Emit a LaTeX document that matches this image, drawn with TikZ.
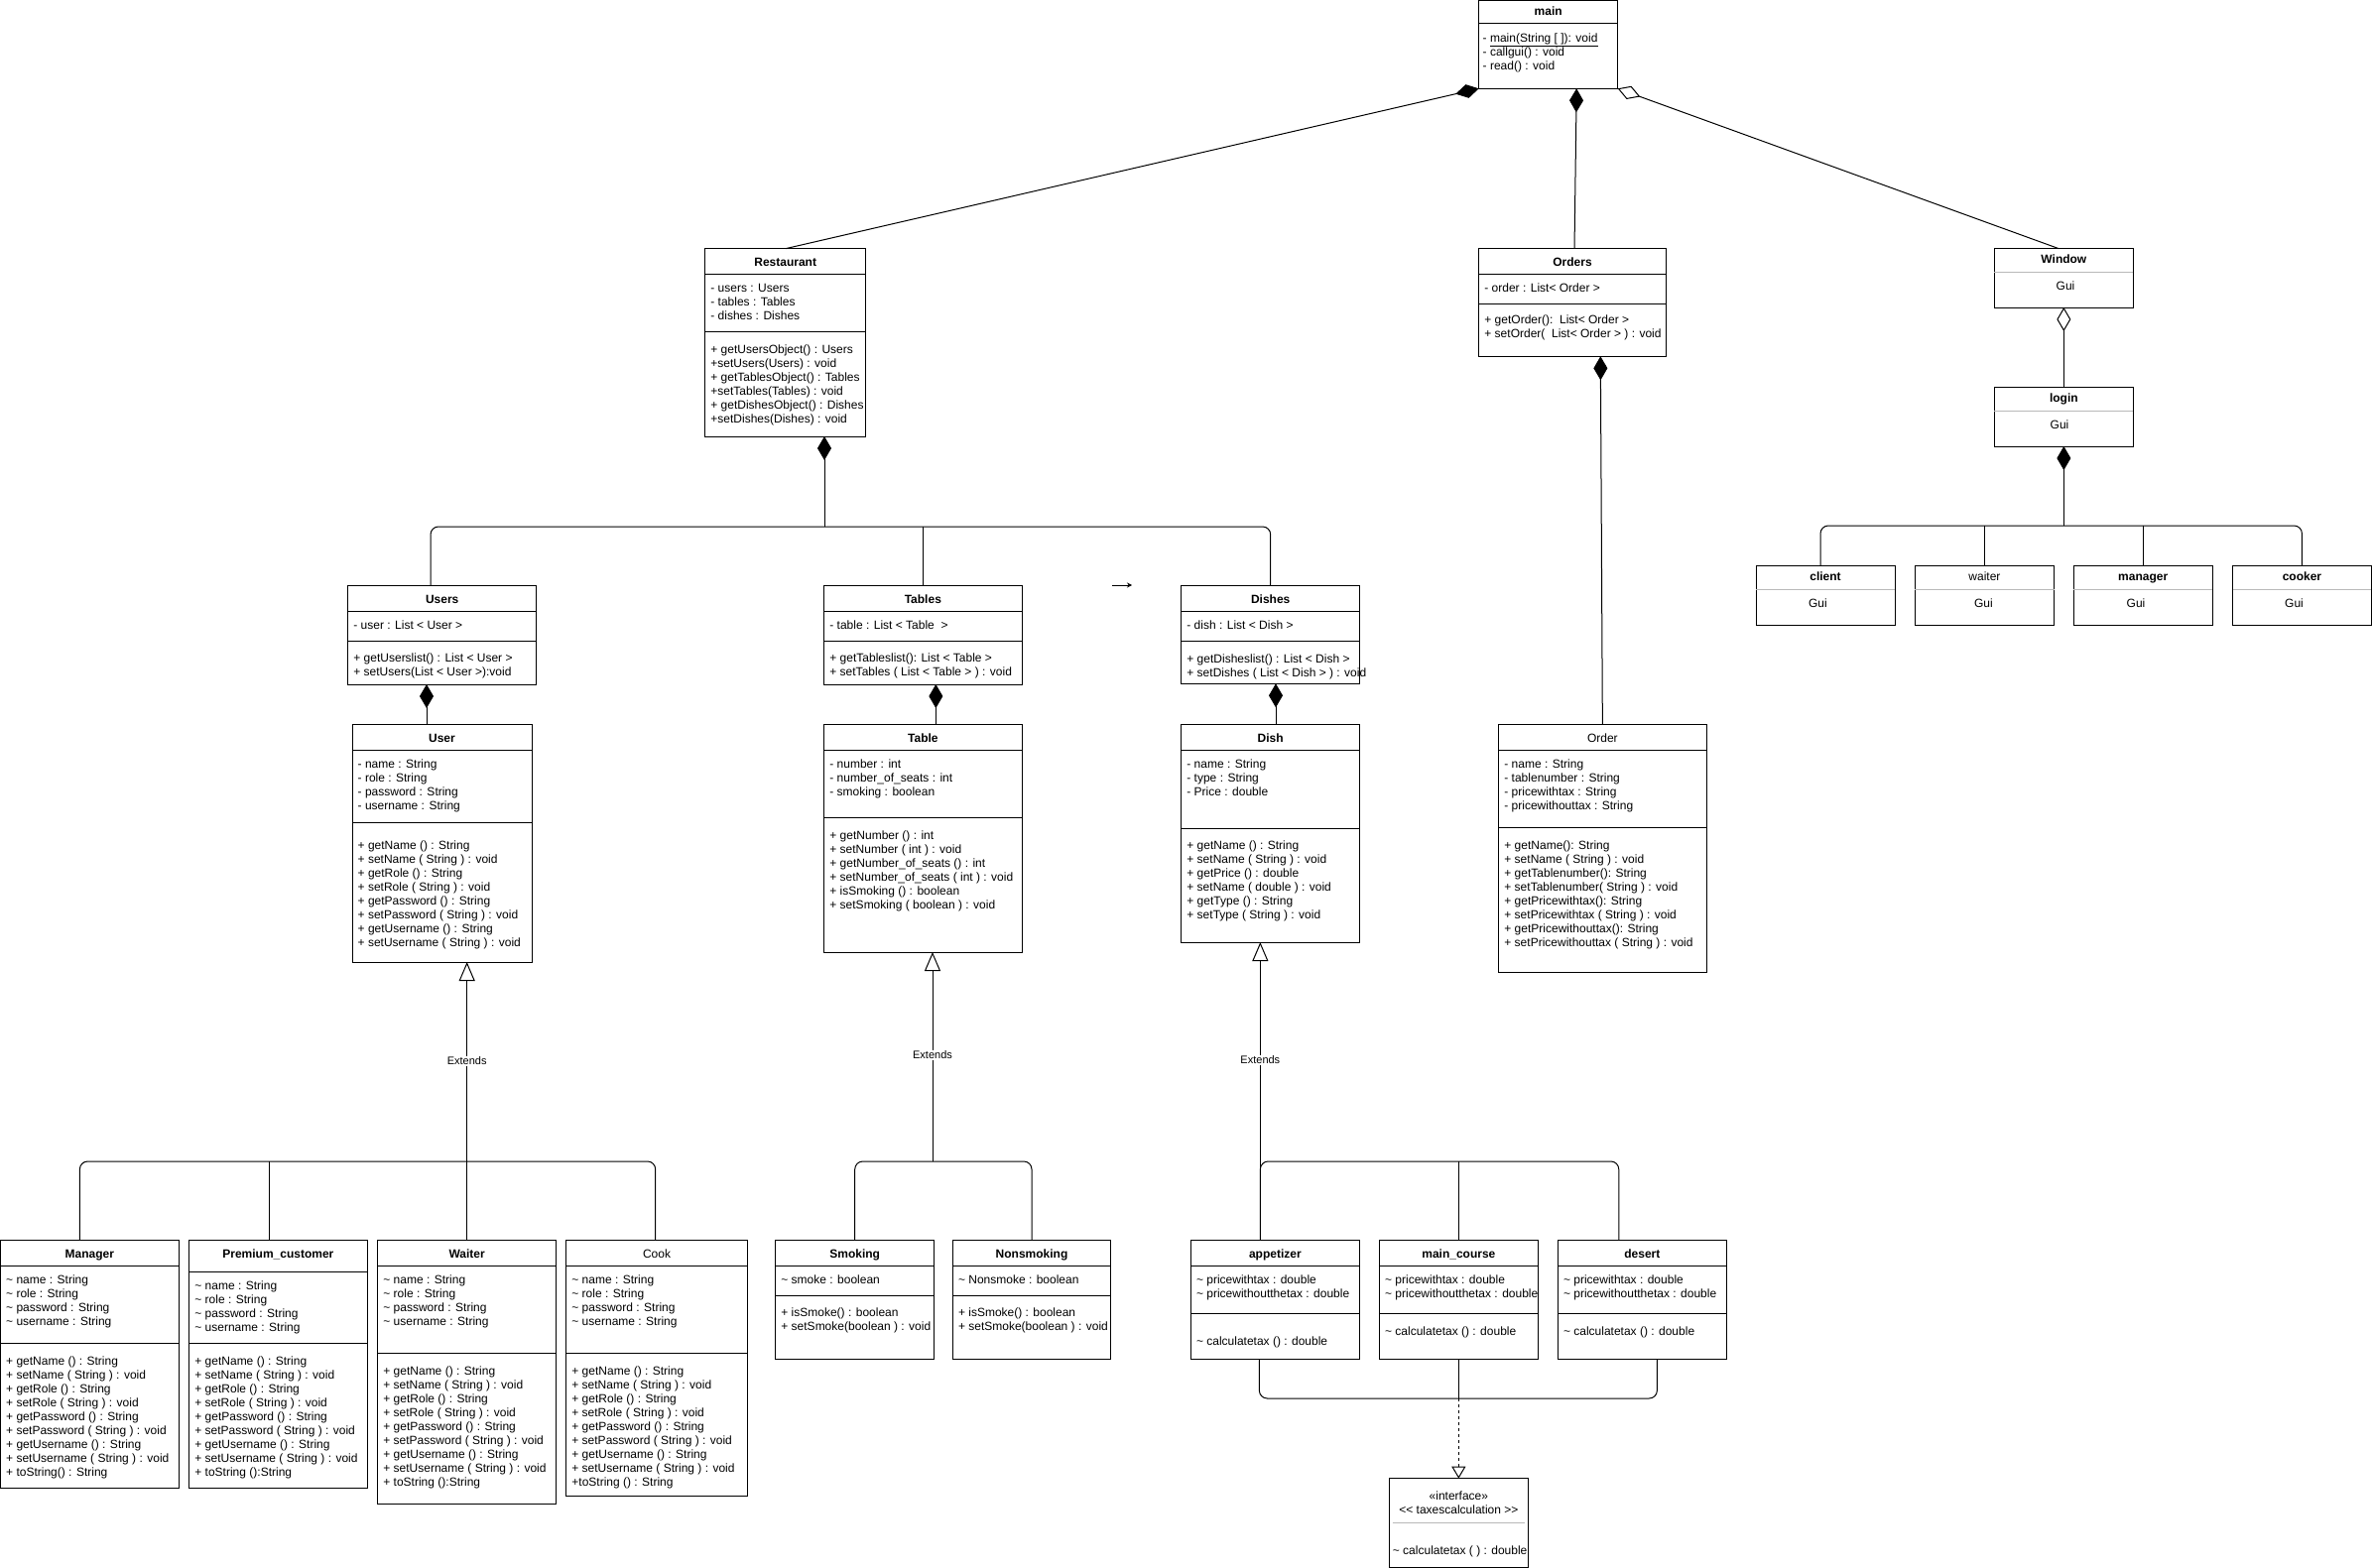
\documentclass[tikz,border=0pt]{standalone}
\usepackage{fontspec}
\setmainfont{Liberation Sans}
\usetikzlibrary{arrows.meta,calc}

\newcommand\tld{\textasciitilde}
\newcommand\basefont{\fontsize{12}{14}\selectfont}

\tikzset{
  cls/.style={draw, line width=1pt, inner sep=0pt, outer sep=0pt, anchor=north west, fill=white},
  ttl/.style={font=\basefont\bfseries, anchor=base, inner sep=0pt},
  ttlr/.style={font=\basefont, anchor=base, inner sep=0pt},
  ln/.style={anchor=base west, inner sep=0pt},
  mid/.style={anchor=base, inner sep=0pt},
  conn/.style={line width=1pt},
  comp/.style={conn, -{Diamond[length=24pt,width=14pt]}},
  aggr/.style={conn, -{Diamond[open,fill=white,length=24pt,width=14pt]}},
  gen/.style={conn, -{Triangle[open,fill=white,length=19pt,width=16pt]}},
  real/.style={conn, dash pattern=on 3pt off 3pt, -{Triangle[open,fill=white,length=12pt,width=14pt]}},
  sep/.style={line width=1pt},
  gsep/.style={line width=1pt, draw=gray!55},
  lbl/.style={font=\fontsize{11}{13}\selectfont, fill=white, inner sep=1pt},
}

% class rectangle: name, x1, y1, x2, y2
\newcommand\classrect[5]{\node[cls, minimum width={#4-#2}, minimum height={#5-#3}] (#1) at (#2,#3) {};}
% compartment separator: [style] name, y
\newcommand\classsep[3][sep]{\draw[#1] (#2.west |- 0,#3) -- (#2.east |- 0,#3);}
% title: [style] name, baseline, text
\newcommand\classtitle[4][ttl]{\node[#1] (#2-t) at (#2.north |- 0,#3) {#4};}
% member lines: prefix, x, first baseline, list
\newcommand\classlines[4]{\foreach \classitem [count=\classidx] in {#4}
  \node[ln] (#1-\classidx) at ({#2},{#3+14*(\classidx-1)}) {\classitem};}

\begin{document}
\begin{tikzpicture}[x=1pt,y=-1pt,font=\basefont]
\fill[white] (0,0) rectangle (2391,1581);
\useasboundingbox (0,0) rectangle (2391,1581);

% ---------- main ----------
\classrect{main}{1490.7}{0.5}{1630.7}{89.3}
\classsep{main}{24}
\classtitle{main}{15.5}{main}
\node[ln] (main-1) at (1494.5,42.5) {- \underline{main(String [ ]): void}};
\node[ln] (main-2) at (1494.5,57) {- callgui() : void};
\node[ln] (main-3) at (1494.5,70.5) {- read() : void};

% ---------- Restaurant ----------
\classrect{restaurant}{710.7}{250.7}{872.7}{440}
\classsep{restaurant}{276}
\classsep{restaurant}{334}
\classtitle{restaurant}{268.5}{Restaurant}
\classlines{restaurant-a}{716.2}{294.3}{{- users : Users},{- tables : Tables},{- dishes : Dishes}}
\begin{scope}
  \clip (restaurant.north west) rectangle (restaurant.south east);
  \classlines{restaurant-m}{716.2}{356}{{+ getUsersObject() : Users},{+setUsers(Users) : void},{+ getTablesObject() : Tables},{+setTables(Tables) : void},{+ getDishesObject() : Dishes},{+setDishes(Dishes) : void}}
\end{scope}

% ---------- Orders ----------
\classrect{orders}{1490.7}{250.7}{1679.3}{359.3}
\classsep{orders}{276}
\classsep{orders}{306}
\classtitle{orders}{268.5}{Orders}
\classlines{orders-a}{1496.2}{294.3}{{- order : List< Order >}}
\classlines{orders-m}{1496.2}{326}{{+ getOrder():\ \ List< Order >},{+ setOrder(\ \ List< Order > ) : void}}

% ---------- Window / login and GUI classes ----------
\classrect{window}{2010.3}{250.7}{2150.4}{310}
\classsep[gsep]{window}{274}
\classtitle{window}{265.2}{Window}
\node[mid] (window-g) at (2082,292) {Gui};

\classrect{login}{2010.3}{390.7}{2150.4}{450}
\classsep[gsep]{login}{414}
\classtitle{login}{405.5}{login}
\node[mid] (login-g) at (2076,432) {Gui};

\classrect{gclient}{1770}{570.7}{1910}{630}
\classsep[gsep]{gclient}{594.3}
\classtitle{gclient}{585.2}{client}
\node[mid] (gclient-g) at (1832.4,612) {Gui};

\classrect{gwaiter}{1930.2}{570.7}{2070.7}{630}
\classsep[gsep]{gwaiter}{594.3}
\classtitle[ttlr]{gwaiter}{585.2}{waiter}
\node[mid] (gwaiter-g) at (1999.4,612) {Gui};

\classrect{gmanager}{2090.4}{570.7}{2230}{630}
\classsep[gsep]{gmanager}{594.3}
\classtitle{gmanager}{585.2}{manager}
\node[mid] (gmanager-g) at (2153,612) {Gui};

\classrect{gcooker}{2250.6}{570.7}{2390.2}{630}
\classsep[gsep]{gcooker}{594.3}
\classtitle{gcooker}{585.2}{cooker}
\node[mid] (gcooker-g) at (2312.5,612) {Gui};

% ---------- Users / User ----------
\classrect{users}{350.7}{590.7}{540.7}{690}
\classsep{users}{616}
\classsep{users}{646}
\classtitle{users}{608.5}{Users}
\classlines{users-a}{356.2}{634.3}{{- user : List < User >}}
\classlines{users-m}{356.2}{667.6}{{+ getUserslist() : List < User >},{+ setUsers(List < User >):void}}

\classrect{user}{355}{730.7}{536}{970}
\classsep{user}{756.7}
\classsep{user}{829.3}
\classtitle{user}{748.5}{User}
\classlines{user-a}{360.5}{774.3}{{- name : String},{- role : String},{- password : String},{- username : String}}
\classlines{user-m}{360.5}{856}{{+ getName () : String},{+ setName ( String ) : void},{+ getRole () : String},{+ setRole ( String ) : void},{+ getPassword () : String},{+ setPassword ( String ) : void},{+ getUsername () : String},{+ setUsername ( String ) : void}}

% ---------- Tables / Table ----------
\classrect{tables}{830.7}{590.7}{1030}{690}
\classsep{tables}{616}
\classsep{tables}{646}
\classtitle{tables}{608.5}{Tables}
\classlines{tables-a}{836.2}{634.3}{{- table : List < Table\ \ >}}
\classlines{tables-m}{836.2}{667.6}{{+ getTableslist(): List < Table >},{+ setTables ( List < Table > ) : void}}

\classrect{table}{830.7}{730.7}{1030}{960}
\classsep{table}{756.7}
\classsep{table}{824}
\classtitle{table}{748.5}{Table}
\classlines{table-a}{836.2}{774.3}{{- number : int},{- number\_of\_seats : int},{- smoking : boolean}}
\classlines{table-m}{836.2}{846}{{+ getNumber () : int},{+ setNumber ( int ) : void},{+ getNumber\_of\_seats () : int},{+ setNumber\_of\_seats ( int ) : void},{+ isSmoking () : boolean},{+ setSmoking ( boolean ) : void}}

% ---------- Dishes / Dish ----------
\classrect{dishes}{1190.7}{590.7}{1370.7}{689.3}
\classsep{dishes}{616}
\classsep{dishes}{646.7}
\classtitle{dishes}{608.5}{Dishes}
\classlines{dishes-a}{1196.2}{634.3}{{- dish : List < Dish >}}
\classlines{dishes-m}{1196.2}{668}{{+ getDisheslist() : List < Dish >},{+ setDishes ( List < Dish > ) : void}}

\classrect{dish}{1190.7}{730.7}{1370.7}{950}
\classsep{dish}{756.7}
\classsep{dish}{835}
\classtitle{dish}{748.5}{Dish}
\classlines{dish-a}{1196.2}{774.3}{{- name : String},{- type : String},{- Price : double}}
\classlines{dish-m}{1196.2}{856}{{+ getName () : String},{+ setName ( String ) : void},{+ getPrice () : double},{+ setName ( double ) : void},{+ getType () : String},{+ setType ( String ) : void}}

% ---------- Order ----------
\classrect{order}{1510.7}{730.7}{1720}{980}
\classsep{order}{756}
\classsep{order}{834}
\classtitle[ttlr]{order}{748.5}{Order}
\classlines{order-a}{1516.2}{774.3}{{- name : String},{- tablenumber : String},{- pricewithtax : String},{- pricewithouttax : String}}
\classlines{order-m}{1516.2}{856}{{+ getName(): String},{+ setName ( String ) : void},{+ getTablenumber(): String},{+ setTablenumber( String ) : void},{+ getPricewithtax(): String},{+ setPricewithtax ( String ) : void},{+ getPricewithouttax(): String},{+ setPricewithouttax ( String ) : void}}

% ---------- user subclasses ----------
\classrect{manager}{0.5}{1250.7}{180.3}{1500}
\classsep{manager}{1276}
\classsep{manager}{1354}
\classtitle{manager}{1268.5}{Manager}
\classlines{manager-a}{6}{1294.3}{{\tld{} name : String},{\tld{} role : String},{\tld{} password : String},{\tld{} username : String}}
\classlines{manager-m}{6}{1376}{{+ getName () : String},{+ setName ( String ) : void},{+ getRole () : String},{+ setRole ( String ) : void},{+ getPassword () : String},{+ setPassword ( String ) : void},{+ getUsername () : String},{+ setUsername ( String ) : void},{+ toString() : String}}

\classrect{premium}{190.7}{1250.7}{370}{1500}
\classsep{premium}{1282.3}
\classsep{premium}{1354}
\classtitle{premium}{1268.5}{Premium\_customer}
\classlines{premium-a}{196.2}{1300}{{\tld{} name : String},{\tld{} role : String},{\tld{} password : String},{\tld{} username : String}}
\classlines{premium-m}{196.2}{1376}{{+ getName () : String},{+ setName ( String ) : void},{+ getRole () : String},{+ setRole ( String ) : void},{+ getPassword () : String},{+ setPassword ( String ) : void},{+ getUsername () : String},{+ setUsername ( String ) : void},{+ toString ():String}}

\classrect{waiter}{380.7}{1250.7}{560.7}{1516}
\classsep{waiter}{1276.7}
\classsep{waiter}{1364}
\classtitle{waiter}{1268.5}{Waiter}
\classlines{waiter-a}{386.2}{1294.3}{{\tld{} name : String},{\tld{} role : String},{\tld{} password : String},{\tld{} username : String}}
\classlines{waiter-m}{386.2}{1386}{{+ getName () : String},{+ setName ( String ) : void},{+ getRole () : String},{+ setRole ( String ) : void},{+ getPassword () : String},{+ setPassword ( String ) : void},{+ getUsername () : String},{+ setUsername ( String ) : void},{+ toString ():String}}

\classrect{cook}{570.7}{1250.7}{753.3}{1508.3}
\classsep{cook}{1276.7}
\classsep{cook}{1364}
\classtitle[ttlr]{cook}{1268.5}{Cook}
\classlines{cook-a}{576.2}{1294.3}{{\tld{} name : String},{\tld{} role : String},{\tld{} password : String},{\tld{} username : String}}
\classlines{cook-m}{576.2}{1386}{{+ getName () : String},{+ setName ( String ) : void},{+ getRole () : String},{+ setRole ( String ) : void},{+ getPassword () : String},{+ setPassword ( String ) : void},{+ getUsername () : String},{+ setUsername ( String ) : void},{+toString () : String}}

% ---------- table subclasses ----------
\classrect{smoking}{781.7}{1250.7}{941.7}{1370}
\classsep{smoking}{1276}
\classsep{smoking}{1306}
\classtitle{smoking}{1268.5}{Smoking}
\classlines{smoking-a}{787.2}{1294.3}{{\tld{} smoke : boolean}}
\classlines{smoking-m}{787.2}{1327.6}{{+ isSmoke() : boolean},{+ setSmoke(boolean ) : void}}

\classrect{nonsmoking}{960.3}{1250.7}{1119.7}{1370}
\classsep{nonsmoking}{1276}
\classsep{nonsmoking}{1306}
\classtitle{nonsmoking}{1268.5}{Nonsmoking}
\classlines{nonsmoking-a}{965.8}{1294.3}{{\tld{} Nonsmoke : boolean}}
\classlines{nonsmoking-m}{965.8}{1327.6}{{+ isSmoke() : boolean},{+ setSmoke(boolean ) : void}}

% ---------- dish subclasses ----------
\classrect{appetizer}{1200.3}{1250.7}{1370.4}{1370}
\classsep{appetizer}{1276}
\classsep{appetizer}{1324.3}
\classtitle{appetizer}{1268.5}{appetizer}
\classlines{appetizer-a}{1205.8}{1294.3}{{\tld{} pricewithtax : double},{\tld{} pricewithoutthetax : double}}
\classlines{appetizer-m}{1205.8}{1356}{{\tld{} calculatetax () : double}}

\classrect{maincourse}{1390.4}{1250.7}{1550.3}{1370}
\classsep{maincourse}{1276}
\classsep{maincourse}{1324.3}
\classtitle{maincourse}{1268.5}{main\_course}
\begin{scope}
  \clip (maincourse.north west) rectangle (maincourse.south east);
  \classlines{maincourse-a}{1395.9}{1294.3}{{\tld{} pricewithtax : double},{\tld{} pricewithoutthetax : double}}
\end{scope}
\classlines{maincourse-m}{1395.9}{1346}{{\tld{} calculatetax () : double}}

\classrect{desert}{1570.3}{1250.7}{1740.4}{1370}
\classsep{desert}{1276}
\classsep{desert}{1324.3}
\classtitle{desert}{1268.5}{desert}
\classlines{desert-a}{1575.8}{1294.3}{{\tld{} pricewithtax : double},{\tld{} pricewithoutthetax : double}}
\classlines{desert-m}{1575.8}{1346}{{\tld{} calculatetax () : double}}

% ---------- interface ----------
\classrect{interface}{1400.2}{1490.7}{1540.5}{1580.5}
\node[mid] (interface-s) at (interface.north |- 0,1512) {«interface»};
\node[mid] (interface-t) at (interface.north |- 0,1526) {<\kern0pt< taxescalculation >\kern0pt>};
\draw[gsep] (1403.7,1535) -- (1537,1535);
\node[ln] (interface-m) at (1403.7,1567.6) {\tld{} calculatetax ( ) : double};

% ---------- associations from main ----------
\draw[comp] (restaurant.north) -- (main.south west);
\draw[comp] ($(orders.north)+(2,0)$) -- ($(main.south)+(28.5,0)$);
\draw[aggr] ($(window.north)+(-5,0)$) -- (main.south east);

% ---------- Restaurant composition ----------
\coordinate (rbus) at ($(restaurant.south)+(39.3,91)$);
\draw[conn, rounded corners=8pt] ($(users.north west)+(83.3,0)$) |- (rbus) -| (dishes.north);
\draw[conn] (tables.north) -- (tables.north |- rbus);
\draw[comp] (rbus) -- (rbus |- restaurant.south);

% ---------- list compositions ----------
\draw[comp] ($(user.north)+(-15.5,0)$) -- ($(user.north |- users.south)+(-15.5,0)$);
\draw[comp] ($(table.north)+(13,0)$) -- ($(table.north |- tables.south)+(13,0)$);
\draw[comp] ($(dish.north)+(5.3,0)$) -- ($(dish.north |- dishes.south)+(5.3,0)$);
\draw[comp] (order.north) -- ($(orders.south)+(28.3,0)$);

% ---------- Window / login ----------
\draw[aggr] (login.north) -- (window.south);
\coordinate (lbus) at ($(login.south)+(0,80)$);
\draw[conn, rounded corners=8pt] ($(gclient.north)+(-5,0)$) |- (lbus) -| (gcooker.north);
\draw[conn] (gwaiter.north) -- (gwaiter.north |- lbus);
\draw[conn] (gmanager.north) -- (gmanager.north |- lbus);
\draw[comp] (lbus) -- (login.south);

% ---------- User generalisation ----------
\coordinate (ubus) at ($(waiter.north)+(0,-79.7)$);
\draw[conn, rounded corners=8pt] ($(manager.north)+(-10,0)$) |- (ubus) -| ($(cook.north)+(-1.3,0)$);
\draw[conn] ($(premium.north)+(-8.6,0)$) -- ($(premium.north |- ubus)+(-8.6,0)$);
\draw[gen] (waiter.north) -- (waiter.north |- user.south);
\node[lbl] (ext-user) at (waiter.north |- 0,1070) {Extends};

% ---------- Table generalisation ----------
\coordinate (tbus) at ($(smoking.north)+(78.3,-79.7)$);
\draw[conn, rounded corners=8pt] (smoking.north) |- (tbus) -| (nonsmoking.north);
\draw[gen] (tbus) -- (tbus |- table.south);
\node[lbl] (ext-table) at (tbus |- 0,1064) {Extends};

% ---------- Dish generalisation ----------
\coordinate (dtop) at ($(appetizer.north)+(-15,0)$);
\coordinate (dbus) at ($(maincourse.north)+(0,-79.7)$);
\draw[conn, rounded corners=8pt] (dtop) |- (dbus) -| ($(desert.north)+(-23.6,0)$);
\draw[conn] (maincourse.north) -- (dbus);
\draw[gen] (dtop) -- (dtop |- dish.south);
\node[lbl] (ext-dish) at (dtop |- 0,1069) {Extends};

% ---------- realisation of the tax interface ----------
\coordinate (ibus) at ($(interface.north)+(0,-80.7)$);
\draw[conn, rounded corners=8pt] ($(appetizer.south)+(-16,0)$) |- (ibus) -| ($(desert.south)+(15,0)$);
\draw[conn] (maincourse.south) -- (ibus);
\draw[real] (ibus) -- (interface.north);

% ---------- small loose arrow ----------
\coordinate (looseA) at (1121,590);
\coordinate (looseB) at (1141,590);
\draw[conn, -{Stealth[length=5pt,width=5pt]}] (looseA) -- (looseB);

\end{tikzpicture}
\end{document}
